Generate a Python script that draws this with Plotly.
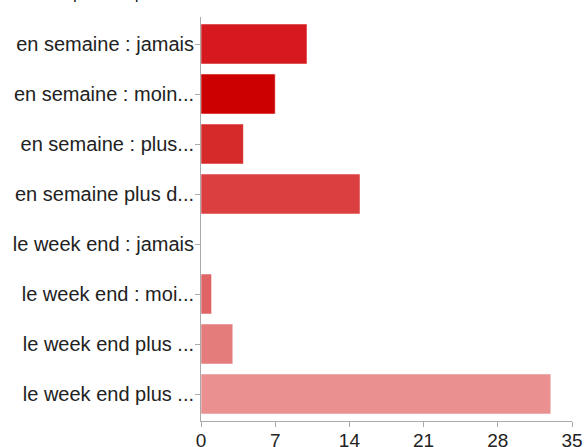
import plotly.graph_objects as go

categories = [
    "en semaine : jamais",
    "en semaine : moin...",
    "en semaine : plus...",
    "en semaine plus d...",
    "le week end : jamais",
    "le week end : moi...",
    "le week end plus ...",
    "le week end plus ...",
]
values = [10, 7, 4, 15, 0, 1, 3, 33]
colors = ["#D5191E", "#CC0000", "#D62A2A", "#DC3F40", "#E05F60", "#E06465", "#E47C7C", "#EA9090"]
x_ticks = [0, 7, 14, 21, 28, 35]
title_text = "À quelle fréquence utilises-tu internet ?"

positions = list(range(len(categories)))

fig = go.Figure(
    go.Bar(
        x=values,
        y=positions,
        orientation="h",
        marker=dict(color=colors, line=dict(color="rgba(255,255,255,0.5)", width=1)),
        width=0.8,
    )
)

fig.update_layout(
    width=588,
    height=447,
    margin=dict(l=201, r=16, t=17, b=26),
    plot_bgcolor="white",
    paper_bgcolor="white",
    font=dict(family="Liberation Sans, Arial, sans-serif", size=18, color="#222222"),
    showlegend=False,
    annotations=[
        dict(
            text=title_text,
            xref="paper", yref="paper",
            x=-0.4016, y=1.032,
            xanchor="left", yanchor="bottom",
            showarrow=False,
            font=dict(size=15, color="#000000", family="Liberation Sans, Arial, sans-serif"),
        )
    ],
)

fig.update_xaxes(
    range=[0, 35],
    tickvals=x_ticks,
    ticktext=[str(v) for v in x_ticks],
    showgrid=False,
    zeroline=False,
    showline=True,
    linecolor="#aaaaaa",
    linewidth=1,
    ticks="outside",
    ticklen=5,
    tickcolor="#aaaaaa",
    tickfont=dict(size=19, color="#222222"),
    ticklabelstandoff=-3,
    fixedrange=True,
    automargin=False,
)
fig.update_yaxes(
    range=[7.54, -0.54],
    tickvals=positions,
    ticktext=categories,
    showgrid=False,
    zeroline=False,
    showline=True,
    linecolor="#aaaaaa",
    linewidth=1,
    ticks="outside",
    ticklen=5,
    tickcolor="#aaaaaa",
    tickfont=dict(size=20, color="#222222"),
    ticklabelstandoff=-3,
    fixedrange=True,
    automargin=False,
)

fig.write_html(
    "out.html",
    config={"displayModeBar": False},
    post_script="document.body.style.margin='0';document.body.style.overflow='hidden';",
)
